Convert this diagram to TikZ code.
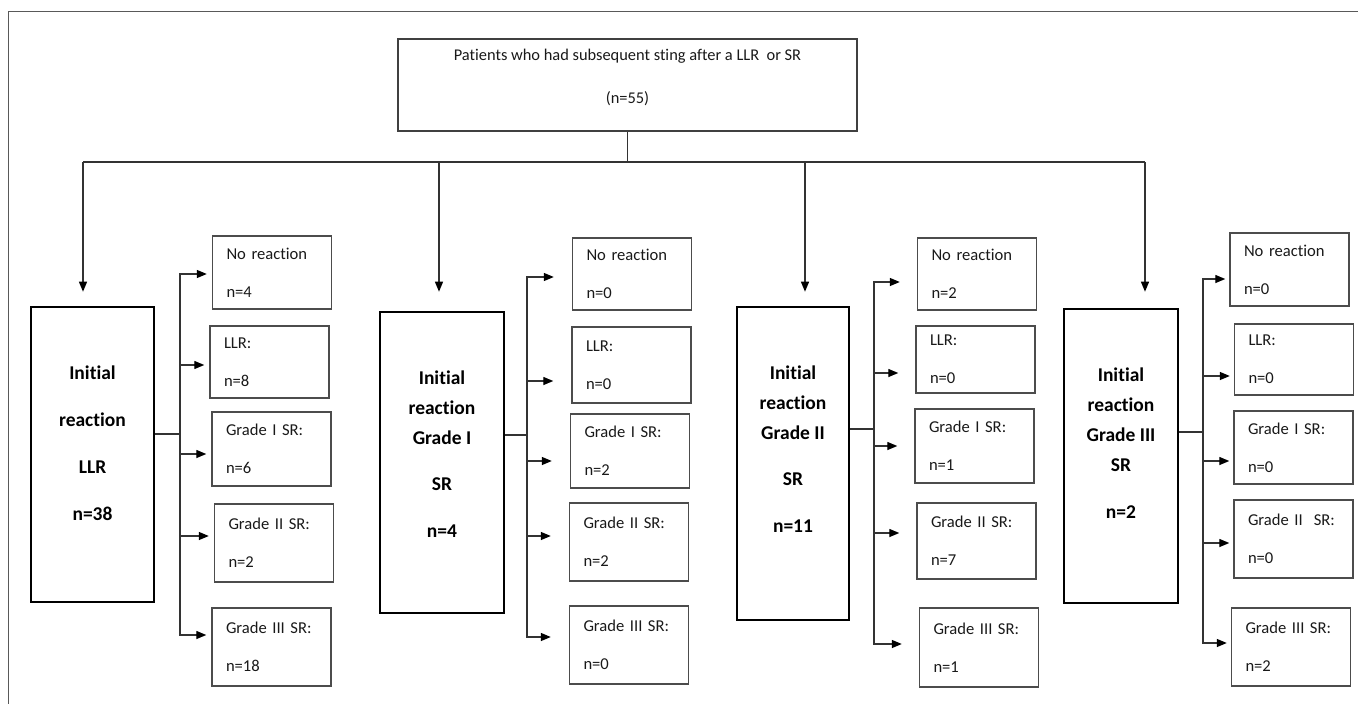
\documentclass[tikz,border=0pt]{standalone}
\usepackage{fontspec}
\setmainfont{Carlito}[Ligatures=NoCommon]
\usepackage{tikz}
\usetikzlibrary{arrows.meta,positioning}

\tikzset{
  frame/.style={draw=black!65, line width=1pt},
  conn/.style={draw=black!80, line width=1.3pt},
  arr/.style={conn, -{Triangle[length=10pt,width=8pt,color=black]}},
  topbox/.style={draw=black!75, line width=1.5pt, minimum width=459pt, minimum height=92pt},
  toptext/.style={anchor=north, yshift=-11pt, inner sep=0pt, align=center, text=black!90, font=\fontsize{16.4}{43}\selectfont},
  initbox/.style={draw=black, line width=2.6pt},
  inittext/.style={anchor=north, yshift=-60pt, inner sep=0pt, align=center, font=\fontsize{19.5}{30}\selectfont\bfseries},
  outbox/.style={draw=black!70, line width=1.4pt, text width=91pt, inner xsep=14pt, align=left, text=black!90, font=\fontsize{16.6}{38}\selectfont}
}

\begin{document}
\begin{tikzpicture}[x=1pt,y=-1pt]
    \useasboundingbox (0,0) rectangle (1358,704);
    \draw[frame] (8,704) -- (8,11) -- (1358,11);

    \node[topbox, label={[toptext]north:{Patients who had subsequent sting after a LLR~ or SR\\(n=55)}}] (top) at (627.5,85) {};

    \node[initbox, minimum width=123pt, minimum height=295pt, label={[inittext]north:{Initial\\[17pt]reaction\\[17pt]LLR\\[17pt]n=38}}] (m1) at (92.5,454.5) {};
    \node[initbox, minimum width=124pt, minimum height=301pt, label={[inittext]north:{Initial\\reaction\\Grade I\\[16pt]SR\\[17pt]n=4}}] (m2) at (442,462.5) {};
    \node[initbox, minimum width=112pt, minimum height=313pt, label={[inittext]north:{Initial\\reaction\\Grade II\\[16pt]SR\\[17pt]n=11}}] (m3) at (793,463.5) {};
    \node[initbox, minimum width=114pt, minimum height=294pt, label={[inittext]north:{Initial\\reaction\\Grade III\\SR\\[17pt]n=2}}] (m4) at (1121,456) {};

    \node[outbox, minimum height=73pt] (nr1) at (272,272.5) {No reaction\\n=4};
    \node[outbox, minimum height=72pt] (llr1) at (269.5,362) {LLR:\\n=8};
    \node[outbox, minimum height=74pt] (g11) at (271.5,449) {Grade I SR:\\n=6};
    \node[outbox, minimum height=78pt] (g21) at (274,543) {Grade II SR:\\n=2};
    \node[outbox, minimum height=78pt] (g31) at (271.5,647) {Grade III SR:\\n=18};

    \node[outbox, minimum height=72pt] (nr2) at (632,274) {No reaction\\n=0};
    \node[outbox, minimum height=76pt] (llr2) at (631.5,365) {LLR:\\n=0};
    \node[outbox, minimum height=74pt] (g12) at (630,451) {Grade I SR:\\n=2};
    \node[outbox, minimum height=78pt] (g22) at (629,542) {Grade II SR:\\n=2};
    \node[outbox, minimum height=78pt] (g32) at (629,645) {Grade III SR:\\n=0};

    \node[outbox, minimum height=72pt] (nr3) at (977,274) {No reaction\\n=2};
    \node[outbox, minimum height=67pt] (llr3) at (975.5,359.5) {LLR:\\n=0};
    \node[outbox, minimum height=74pt] (g13) at (974.5,446) {Grade I SR:\\n=1};
    \node[outbox, minimum height=76pt] (g23) at (976.5,541) {Grade II SR:\\n=7};
    \node[outbox, minimum height=79pt] (g33) at (979,647.5) {Grade III SR:\\n=1};

    \node[outbox, minimum height=73pt] (nr4) at (1289.5,269.5) {No reaction\\n=0};
    \node[outbox, minimum height=71pt] (llr4) at (1294,359.5) {LLR:\\n=0};
    \node[outbox, minimum height=73pt] (g14) at (1293.5,447.5) {Grade I SR:\\n=0};
    \node[outbox, minimum height=78pt] (g24) at (1293.5,539) {Grade II~ SR:\\n=0};
    \node[outbox, minimum height=78pt] (g34) at (1291,647) {Grade III SR:\\n=2};

    \coordinate (a1) at (83,162);
    \coordinate (a2) at (439,162);
    \coordinate (a3) at (805,162);
    \coordinate (a4) at (1145,162);
    \draw[conn] (top.south) -- (top.south |- a1);
    \draw[conn] (a1) -- (a4);
    \foreach \i/\g in {1/14,2/19,3/14,4/16}
        \draw[arr, shorten >=\g pt] (a\i) -- (a\i |- m\i.north);

    \coordinate (t1) at (180,434);
    \coordinate (t2) at (527,435);
    \coordinate (t3) at (874,429);
    \coordinate (t4) at (1203,432);
    \draw[conn] (t1 -| m1.east) -- (t1);
    \draw[conn] (t2 -| m2.east) -- (t2);
    \draw[conn] (t3 -| m3.east) -- (t3);
    \draw[conn] (t4 -| m4.east) -- (t4);

    \foreach \b/\s in {nr1/-1.5,llr1/-3,g11/-5,g21/7,g31/12}{
        \path ([yshift=\s pt]\b.west) coordinate (q);
        \draw[arr, shorten >=5pt] (t1) |- (q);
    }
    \foreach \b/\s in {nr2/-3,llr2/-16,g12/-10,g22/6,g32/8}{
        \path ([yshift=\s pt]\b.west) coordinate (q);
        \draw[arr, shorten >=18pt] (t2) |- (q);
    }
    \foreach \b/\s in {nr3/-8,llr3/-13.5,g13/0,g23/8,g33/3.5}{
        \path ([yshift=\s pt]\b.west) coordinate (q);
        \draw[arr, shorten >=17pt] (t3) |- (q);
    }
    \foreach \b/\s in {nr4/-9.5,llr4/-16.5,g14/-13.5,g24/-4,g34/4}{
        \path ([yshift=\s pt]\b.west) coordinate (q);
        \draw[arr, shorten >=4pt] (t4) |- (q);
    }
\end{tikzpicture}
\end{document}
